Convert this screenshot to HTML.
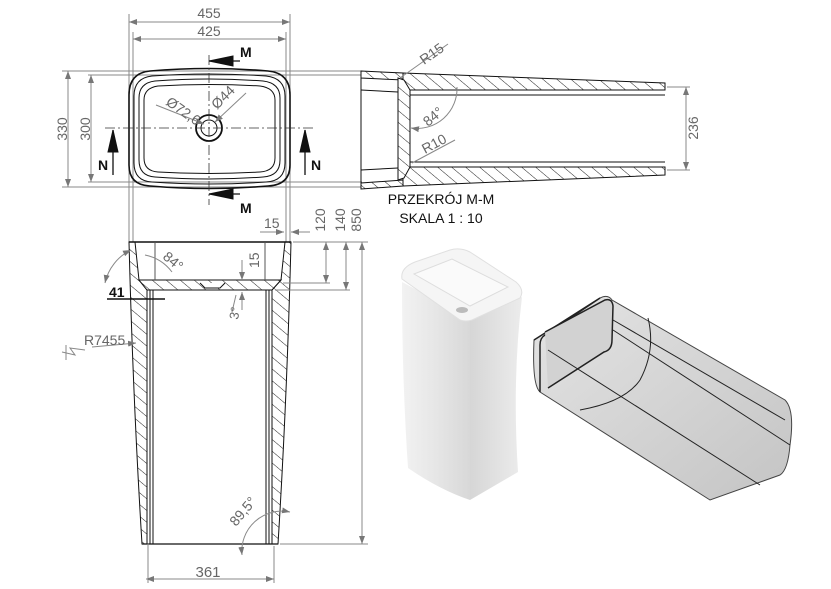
<!DOCTYPE html>
<html><head><meta charset="utf-8"><style>
html,body{margin:0;padding:0;background:#fff;}
svg{display:block;}
text{font-family:"Liberation Sans",sans-serif;fill:#666;}
</style></head><body>
<svg width="831" height="589" viewBox="0 0 831 589" xmlns="http://www.w3.org/2000/svg">
<defs>
<pattern id="h" width="9" height="9" patternUnits="userSpaceOnUse" patternTransform="rotate(-50)">
<rect width="9" height="9" fill="#fff"/><line x1="0" y1="0" x2="0" y2="9" stroke="#222" stroke-width="1"/>
</pattern>
<marker id="a" markerWidth="8" markerHeight="6" refX="8" refY="3" orient="auto" markerUnits="userSpaceOnUse"><path d="M0,0 L8,3 L0,6z" fill="#777"/></marker>
<marker id="as" markerWidth="8" markerHeight="6" refX="0" refY="3" orient="auto" markerUnits="userSpaceOnUse"><path d="M8,0 L0,3 L8,6z" fill="#777"/></marker>
<linearGradient id="g1" x1="0" x2="1"><stop offset="0" stop-color="#f2f2f2"/><stop offset="0.5" stop-color="#e6e6e6"/><stop offset="1" stop-color="#d8d8d8"/></linearGradient>
<linearGradient id="g2" x1="0" x2="1"><stop offset="0" stop-color="#d6d6d6"/><stop offset="1" stop-color="#ececec"/></linearGradient>
<linearGradient id="g3" x1="0" y1="0" x2="1" y2="1"><stop offset="0" stop-color="#e4e4e4"/><stop offset="1" stop-color="#c4c4c4"/></linearGradient>
</defs>

<!-- TOP VIEW -->
<g stroke="#888" stroke-width="1" fill="none">
<line x1="129" y1="14" x2="129" y2="242"/><line x1="290" y1="14" x2="290" y2="242"/>
<line x1="133" y1="32" x2="133" y2="242"/><line x1="286" y1="32" x2="286" y2="242"/>
<line x1="129" y1="22" x2="290" y2="22" marker-start="url(#as)" marker-end="url(#a)"/>
<line x1="133" y1="39" x2="286" y2="39" marker-start="url(#as)" marker-end="url(#a)"/>
<line x1="62" y1="71" x2="362" y2="71"/><line x1="62" y1="187" x2="362" y2="187"/>
<line x1="88" y1="75" x2="362" y2="75"/><line x1="88" y1="182" x2="362" y2="182"/>
<line x1="68" y1="71" x2="68" y2="187" marker-start="url(#as)" marker-end="url(#a)"/>
<line x1="91" y1="75" x2="91" y2="182" marker-start="url(#as)" marker-end="url(#a)"/>
</g>
<text x="209" y="18" font-size="14" text-anchor="middle">455</text>
<text x="209" y="36" font-size="14" text-anchor="middle">425</text>
<text transform="translate(67,129) rotate(-90)" font-size="14" text-anchor="middle">330</text>
<text transform="translate(90,129) rotate(-90)" font-size="14" text-anchor="middle">300</text>
<g stroke="#111" fill="none">
<path d="M150,71 Q209,66 268,71 Q290,73 290,95 L290,165 Q290,185 268,186 Q209,191 150,186 Q129,185 129,165 L129,95 Q129,73 150,71Z" stroke-width="1.6"/>
<path d="M152,76 Q209,72 266,76 Q285,78 285,96 L285,163 Q285,181 266,182 Q209,186 152,182 Q134,181 134,163 L134,96 Q134,78 152,76Z" stroke-width="1"/>
<path d="M155,81 Q209,77 263,81 Q280,83 280,98 L280,160 Q280,176 263,177 Q209,181 155,177 Q139,176 139,160 L139,98 Q139,83 155,81Z" stroke-width="1"/>
<path d="M158,86 Q209,83 260,86 Q275,88 275,100 L275,158 Q275,171 260,172 Q209,175 158,172 Q144,171 144,158 L144,100 Q144,88 158,86Z" stroke-width="1"/>
<circle cx="209" cy="128" r="13" stroke-width="1.8"/><circle cx="209" cy="128" r="8"/>
</g>
<g stroke="#333" stroke-dasharray="10,3,2,3" stroke-width="0.8">
<line x1="209" y1="55" x2="209" y2="205"/><line x1="105" y1="128" x2="315" y2="128"/>
</g>
<g stroke="#888"><line x1="156" y1="105" x2="204" y2="124" marker-end="url(#a)"/><line x1="246" y1="93" x2="215" y2="122" marker-end="url(#a)"/></g>
<text transform="translate(165,104) rotate(35)" font-size="14">Ø72,6</text>
<text transform="translate(217,110) rotate(-45)" font-size="14">Ø44</text>
<g fill="#111" stroke="#111">
<line x1="209" y1="61" x2="240" y2="61" stroke-width="1.3"/><path d="M209,61 L233,56 L233,66z"/>
<line x1="209" y1="194" x2="240" y2="194" stroke-width="1.3"/><path d="M209,194 L233,189 L233,199z"/>
<line x1="113" y1="175" x2="113" y2="130" stroke-width="1.3"/><path d="M113,130 L108,152 L118,152z"/>
<line x1="305" y1="175" x2="305" y2="130" stroke-width="1.3"/><path d="M305,130 L300,152 L310,152z"/>
</g>
<g font-weight="bold" font-size="14"><text x="240" y="57" style="fill:#111">M</text><text x="240" y="213" style="fill:#111">M</text>
<text x="98" y="170" style="fill:#111">N</text><text x="311" y="170" style="fill:#111">N</text></g>

<!-- SECTION M-M -->
<g stroke="#111" stroke-width="1">
<path d="M403,73 L665,83 L665,90 L410,90 L403,85Z" fill="url(#h)"/>
<path d="M403,186 L665,175 L665,167 L410,167 L403,176Z" fill="url(#h)"/>
<path d="M361,71 L403,73 L403,80 L361,78Z" fill="url(#h)"/>
<path d="M361,189 L403,186 L403,180 L361,183Z" fill="url(#h)"/>
<path d="M398,78 L404,80 L410,90 L410,167 L404,178 L398,180Z" fill="url(#h)"/>
<line x1="361" y1="71" x2="361" y2="189"/>
<line x1="361" y1="90" x2="398" y2="92"/><line x1="361" y1="170" x2="398" y2="168"/>
<line x1="410" y1="95" x2="665" y2="95"/><line x1="410" y1="162" x2="665" y2="162"/>
</g>
<g stroke="#888" fill="none">
<line x1="667" y1="87" x2="690" y2="87"/><line x1="667" y1="170" x2="690" y2="170"/>
<line x1="686" y1="87" x2="686" y2="170" marker-start="url(#as)" marker-end="url(#a)"/>
<line x1="400" y1="78" x2="448" y2="44"/><line x1="412" y1="163" x2="455" y2="140"/>
<path d="M411,128 A40,40 0 0 0 457,87" marker-start="url(#as)"/>
</g>
<text transform="translate(424,65) rotate(-35)" font-size="14">R15</text>
<text transform="translate(425,154) rotate(-28)" font-size="14">R10</text>
<text transform="translate(428,127) rotate(-40)" font-size="14">84°</text>
<text transform="translate(698,128) rotate(-90)" font-size="14" text-anchor="middle">236</text>
<text x="441" y="204" font-size="14" text-anchor="middle" style="fill:#111">PRZEKRÓJ M-M</text>
<text x="441" y="223" font-size="14" text-anchor="middle" style="fill:#111">SKALA 1 : 10</text>

<!-- FRONT VIEW -->
<g stroke="#111" stroke-width="1">
<path d="M129,242 L135,242 L139,280 L147,290 L147,544 L142,544 Q133,400 129,242Z" fill="url(#h)"/>
<path d="M291,242 L285,242 L281,280 L272,290 L272,544 L278,544 Q287,400 291,242Z" fill="url(#h)"/>
<path d="M139,280 L281,280 L272,290 L147,290Z" fill="url(#h)"/>
<line x1="129" y1="242" x2="291" y2="242" stroke-width="1.5"/>
<line x1="142" y1="544" x2="278" y2="544" stroke-width="1.3"/>
<line x1="153" y1="290" x2="153" y2="544"/><line x1="266" y1="290" x2="266" y2="544"/>
<line x1="150" y1="290" x2="150" y2="544"/><line x1="269" y1="290" x2="269" y2="544"/>
<line x1="155" y1="242" x2="155" y2="280" stroke="#555"/><line x1="265" y1="242" x2="265" y2="280" stroke="#555"/>
<path d="M200,283 L205,288 L220,288 L225,283" fill="#fff"/>
</g>
<g stroke="#888" fill="none">
<line x1="293" y1="242" x2="368" y2="242"/><line x1="283" y1="283" x2="330" y2="283"/>
<line x1="275" y1="290" x2="350" y2="290"/><line x1="280" y1="544" x2="368" y2="544"/>
<line x1="326" y1="242" x2="326" y2="283" marker-start="url(#as)" marker-end="url(#a)"/>
<line x1="346" y1="242" x2="346" y2="290" marker-start="url(#as)" marker-end="url(#a)"/>
<line x1="362" y1="242" x2="362" y2="544" marker-start="url(#as)" marker-end="url(#a)"/>
<line x1="260" y1="232" x2="284" y2="232" marker-end="url(#a)"/><line x1="310" y1="232" x2="291" y2="232" marker-end="url(#a)"/>
<line x1="242" y1="260" x2="242" y2="280" marker-end="url(#a)"/><line x1="242" y1="310" x2="242" y2="292" marker-end="url(#a)"/>
<line x1="148" y1="543" x2="148" y2="583"/><line x1="274" y1="546" x2="274" y2="583"/>
<line x1="146" y1="579" x2="274" y2="579" marker-start="url(#as)" marker-end="url(#a)"/>
<path d="M105,283 A48,48 0 0 1 131,250" marker-start="url(#as)" marker-end="url(#a)"/>
<path d="M172,272 A45,45 0 0 0 145,255"/>
<path d="M242,555 A40,40 0 0 1 290,512" marker-start="url(#as)" marker-end="url(#a)"/>
<line x1="92" y1="347" x2="136" y2="343" marker-end="url(#a)"/>
<polyline points="62,352 75,355 70,348 85,350"/><line x1="66" y1="345" x2="66" y2="360"/>
<line x1="232" y1="312" x2="236" y2="295"/>
</g>
<g stroke="#111" stroke-width="1.5"><line x1="107" y1="299" x2="165" y2="299"/></g>
<text x="264" y="228" font-size="14">15</text>
<text transform="translate(325,220) rotate(-90)" font-size="14" text-anchor="middle">120</text>
<text transform="translate(345,220) rotate(-90)" font-size="14" text-anchor="middle">140</text>
<text transform="translate(361,220) rotate(-90)" font-size="14" text-anchor="middle">850</text>
<text transform="translate(259,268) rotate(-90)" font-size="14">15</text>
<text transform="translate(238,320) rotate(-80)" font-size="13">3°</text>
<text transform="translate(162,258) rotate(40)" font-size="14">84°</text>
<text x="109" y="297" font-size="14" font-weight="bold" style="fill:#111">41</text>
<text x="84" y="345" font-size="14">R7455</text>
<text transform="translate(236,527) rotate(-50)" font-size="14">89,5°</text>
<text x="208" y="577" font-size="15" text-anchor="middle">361</text>

<!-- 3D pedestal -->
<path d="M402,282 L470,318 L470,500 Q440,490 408,468 Q402,380 402,282Z" fill="url(#g1)"/>
<path d="M470,318 L522,297 Q512,380 518,472 L470,500Z" fill="url(#g2)"/>
<path d="M402,279 Q400,268 415,262 L450,250 Q460,247 470,252 L516,282 Q525,290 520,298 L472,320 Q466,322 460,320 Z" fill="#f5f5f5" stroke="#e0e0e0"/>
<path d="M414,274 L452,259 L508,287 L470,306Z" fill="#fafafa" stroke="#ddd"/>
<ellipse cx="462" cy="310" rx="6" ry="3" fill="#bbb"/>

<!-- 3D tube -->
<path d="M534,340 L600,298 Q608,294 612,300 L785,400 Q795,410 790,445 Q788,470 780,475 L710,500 L540,392 Q532,385 534,340Z" fill="url(#g3)" stroke="#444" stroke-width="1"/>
<path d="M534,340 L600,298 L545,335 Q540,338 540,345 L540,392" fill="none" stroke="#222" stroke-width="1.5"/>
<path d="M545,332 L605,300 Q612,298 613,306 L612,340 Q612,350 604,352 L548,388" fill="#d2d2d2" stroke="#222" stroke-width="1.5"/>
<g stroke="#222" fill="none" stroke-width="1">
<path d="M613,320 L785,420"/><path d="M613,330 L790,445"/><path d="M548,350 L760,485"/>
<path d="M648,318 Q656,350 640,380 Q625,402 580,410"/>
</g>
</svg>
</body></html>
